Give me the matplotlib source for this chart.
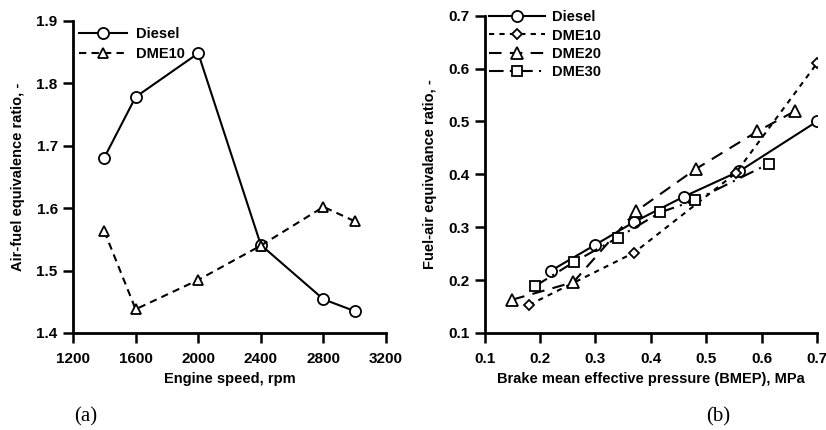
import matplotlib.pyplot as plt

plt.rcParams['font.family'] = ['Liberation Sans', 'DejaVu Sans']
plt.rcParams['font.weight'] = 'bold'

# (a) air-fuel equivalence ratio vs engine speed
speed = [1400, 1600, 2000, 2400, 2800, 3000]
afr_diesel = [1.681, 1.778, 1.848, 1.541, 1.454, 1.435]
afr_dme10 = [1.563, 1.438, 1.485, 1.540, 1.602, 1.579]

# (b) fuel-air equivalence ratio vs BMEP
bmep_diesel = [0.22, 0.30, 0.37, 0.46, 0.56, 0.70]
far_diesel = [0.218, 0.267, 0.310, 0.358, 0.406, 0.500]
bmep_dme10 = [0.18, 0.37, 0.553, 0.70]
far_dme10 = [0.153, 0.252, 0.402, 0.610]
bmep_dme20 = [0.15, 0.26, 0.373, 0.481, 0.592, 0.661]
far_dme20 = [0.163, 0.196, 0.330, 0.410, 0.481, 0.520]
bmep_dme30 = [0.19, 0.261, 0.34, 0.417, 0.48, 0.613]
far_dme30 = [0.188, 0.234, 0.280, 0.328, 0.351, 0.420]

fig = plt.figure(figsize=(8.26, 4.30), dpi=100)
ax1 = fig.add_axes([0.0884, 0.2256, 0.379, 0.726])
ax2 = fig.add_axes([0.5868, 0.2256, 0.4023, 0.738])

mk = dict(markerfacecolor='white', markeredgecolor='black', markeredgewidth=1.3, color='black')
leg_font = {'weight': 'bold', 'size': 10.5}

ax1.plot(speed, afr_diesel, '-', marker='o', markersize=8, lw=1.5, label='Diesel', **mk)
ax1.plot(speed, afr_dme10, marker='^', markersize=7.5, lw=1.5, ls=(0, (3.5, 2.5)), label='DME10', **mk)
ax1.set_xlim(1200, 3200)
ax1.set_ylim(1.4, 1.9)
ax1.set_xticks([1200, 1600, 2000, 2400, 2800, 3200])
ax1.set_yticks([1.4, 1.5, 1.6, 1.7, 1.8, 1.9])
ax1.set_xlabel('Engine speed, rpm', fontsize=10.5, fontweight='bold', labelpad=4)
ax1.set_ylabel('Air-fuel equivalence ratio, -', fontsize=10.5, fontweight='bold', labelpad=8)
ax1.legend(loc='upper left', frameon=False, handlelength=3.3, handletextpad=0.6,
           borderaxespad=0.1, borderpad=0.3, labelspacing=0.45, prop=leg_font)

ax2.plot(bmep_diesel, far_diesel, '-', marker='o', markersize=8, lw=1.5, label='Diesel', **mk)
ax2.plot(bmep_dme10, far_dme10, marker='D', markersize=5.5, lw=1.5, ls=(0, (2.5, 2.5)), label='DME10', **mk)
ax2.plot(bmep_dme20, far_dme20, marker='^', markersize=8, lw=1.5, ls=(0, (6, 4)), label='DME20', **mk)
ax2.plot(bmep_dme30, far_dme30, marker='s', markersize=7.5, lw=1.5, ls=(0, (7, 3, 1, 3)), label='DME30', **mk)
ax2.set_xlim(0.1, 0.7)
ax2.set_ylim(0.1, 0.7)
ax2.set_xticks([0.1, 0.2, 0.3, 0.4, 0.5, 0.6, 0.7])
ax2.set_yticks([0.1, 0.2, 0.3, 0.4, 0.5, 0.6, 0.7])
ax2.set_xlabel('Brake mean effective pressure (BMEP), MPa', fontsize=10.5, fontweight='bold', labelpad=4)
ax2.set_ylabel('Fuel-air equivalance ratio, -', fontsize=10.5, fontweight='bold', labelpad=8)
ax2.legend(loc='upper left', frameon=False, handlelength=3.8, handletextpad=0.5,
           bbox_to_anchor=(0.01, 1.022), borderaxespad=0.0, borderpad=0.1,
           labelspacing=0.3, prop=leg_font)

for ax in (ax1, ax2):
    ax.spines['top'].set_visible(False)
    ax.spines['right'].set_visible(False)
    ax.spines['left'].set_linewidth(2)
    ax.spines['bottom'].set_linewidth(2)
    ax.tick_params(direction='out', length=7, width=1.8, labelsize=11, pad=4)
    ax.tick_params(axis='x', pad=7)
    for t in ax.get_xticklabels() + ax.get_yticklabels():
        t.set_fontweight('bold')
    ax.patch.set_alpha(0)

fig.text(0.104, 0.03, '(a)', fontsize=15, family='Liberation Serif', fontweight='normal', ha='center', va='center')
fig.text(0.869, 0.03, '(b)', fontsize=15, family='Liberation Serif', fontweight='normal', ha='center', va='center')

fig.savefig('out.png', dpi=100)
